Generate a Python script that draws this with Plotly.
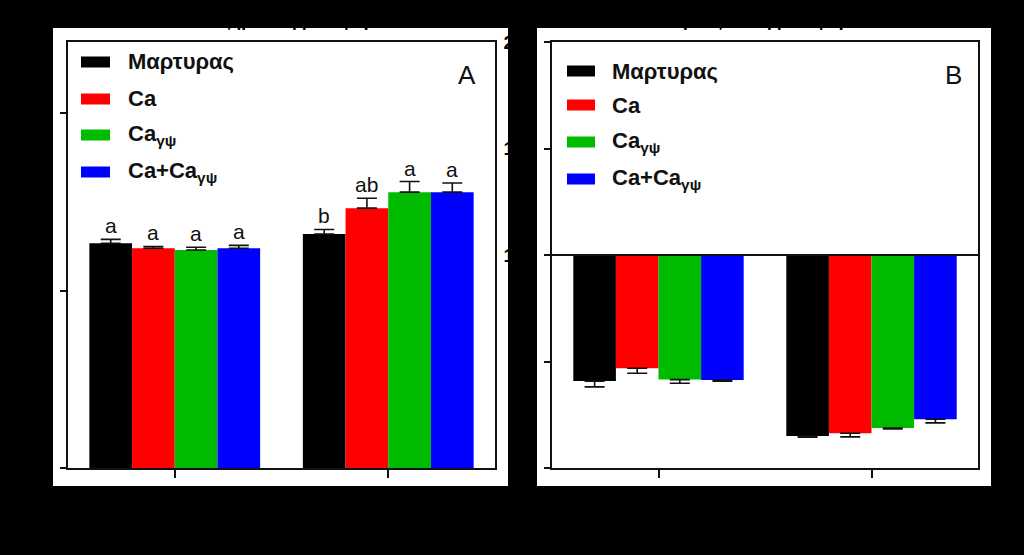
import plotly.graph_objects as go

# ---------------- data ----------------
categories = ["Συγκομιδή", "Αποθήκευση"]
series_names = ["Μαρτυρας", "Ca", "Ca<sub>γψ</sub>", "Ca+Ca<sub>γψ</sub>"]
colors = ["#000000", "#ff0000", "#00bb00", "#0000ff"]

# Panel A
a_values = [
    [63.3, 65.9],   # Μαρτυρας
    [61.9, 73.2],   # Ca
    [61.4, 77.7],   # Caγψ
    [61.9, 77.7],   # Ca+Caγψ
]
a_errors = [
    [1.1, 1.3],
    [0.5, 2.8],
    [0.8, 3.0],
    [0.8, 2.6],
]
a_letters = [
    ["a", "b"],
    ["a", "ab"],
    ["a", "a"],
    ["a", "a"],
]

# Panel B (bars drawn from the 100 baseline)
b_baseline = 100
b_values = [
    [40.8, 15.0],
    [46.8, 16.3],
    [41.5, 18.8],
    [41.3, 22.9],
]
b_errors = [
    [2.7, 0.5],
    [2.3, 1.7],
    [1.7, 0.5],
    [0.5, 1.7],
]

a_yticks = [0, 50, 100]
b_yticks = [0, 50, 100, 150, 200]

W, H = 1024, 555
FONT = "Liberation Sans, Arial, sans-serif"


def px(x):
    return x / W


def py(y):
    return 1 - y / H


fig = go.Figure()
xpos = list(range(len(categories)))

for k in range(4):
    fig.add_trace(go.Bar(
        x=xpos, y=a_values[k], name=series_names[k],
        marker=dict(color=colors[k], line=dict(width=0)),
        error_y=dict(type="data", symmetric=False, array=a_errors[k],
                     arrayminus=[0] * len(categories),
                     color="#111111", thickness=1.6, width=10),
        xaxis="x", yaxis="y", showlegend=False,
    ))
    fig.add_trace(go.Bar(
        x=xpos, y=[v - b_baseline for v in b_values[k]], base=b_baseline,
        name=series_names[k],
        marker=dict(color=colors[k], line=dict(width=0)),
        error_y=dict(type="data", symmetric=False, array=[0] * len(categories),
                     arrayminus=b_errors[k],
                     color="#111111", thickness=1.6, width=10),
        xaxis="x2", yaxis="y2", showlegend=False,
    ))

annotations = []
shapes = []

# significance letters (panel A)
bar_w = 0.8 / 4
for k in range(4):
    for i, c in enumerate(xpos):
        annotations.append(dict(
            x=c - 0.4 + bar_w * (k + 0.5), y=a_values[k][i] + a_errors[k][i],
            xref="x", yref="y", text=a_letters[k][i], showarrow=False,
            yanchor="bottom", yshift=0,
            font=dict(family=FONT, size=21, color="#111111"),
        ))

# white panels behind each chart
for (x0, x1) in [(53, 508), (537, 991)]:
    shapes.append(dict(type="rect", xref="paper", yref="paper",
                       x0=px(x0), x1=px(x1), y0=py(486), y1=py(28),
                       fillcolor="white", line=dict(width=0), layer="below"))

# baseline at 100 in panel B
shapes.append(dict(type="line", xref="x2 domain", yref="y2", x0=0, x1=1,
                   y0=b_baseline, y1=b_baseline,
                   line=dict(color="#111111", width=2)))

# legends (manual)
legend_specs = [
    dict(sx0=81, sx1=110, tx=126, ys=[62, 99, 135, 172]),
    dict(sx0=567, sx1=595, tx=610, ys=[71, 105, 142, 179]),
]
for spec in legend_specs:
    for k, yc in enumerate(spec["ys"]):
        shapes.append(dict(type="rect", xref="paper", yref="paper",
                           x0=px(spec["sx0"]), x1=px(spec["sx1"]),
                           y0=py(yc + 5.5), y1=py(yc - 5.5),
                           fillcolor=colors[k], line=dict(width=0)))
        annotations.append(dict(
            x=px(spec["tx"]), y=py(yc), xref="paper", yref="paper",
            text="<b>" + series_names[k] + "</b>", showarrow=False,
            xanchor="left", yanchor="middle",
            font=dict(family=FONT, size=22, color="#111111"),
        ))

# panel labels
for lab, x, y in [("A", 467, 75), ("B", 953, 75)]:
    annotations.append(dict(x=px(x), y=py(y), xref="paper", yref="paper",
                            text=lab, showarrow=False, xanchor="center",
                            yanchor="middle",
                            font=dict(family=FONT, size=26, color="#111111")))

# panel titles and axis titles (black on black, as in the reference)
for t, x in [("Αποξήρανση/μεταφορά", 285), ("Προεξέταση/μεταφορά", 765)]:
    annotations.append(dict(x=px(x), y=py(33), xref="paper", yref="paper",
                            text="<b>" + t + "</b>", showarrow=False,
                            xanchor="center", yanchor="bottom",
                            font=dict(family=FONT, size=18, color="black")))
for t, x in [("Συνθήκες αποθήκευσης", 285), ("Συνθήκες αποθήκευσης", 765)]:
    annotations.append(dict(x=px(x), y=py(535), xref="paper", yref="paper",
                            text="<b>" + t + "</b>", showarrow=False,
                            xanchor="center", yanchor="middle",
                            font=dict(family=FONT, size=18, color="black")))

axis_common = dict(showline=True, linecolor="#111111", linewidth=2, mirror=True,
                   showgrid=False, zeroline=False, ticks="outside",
                   tickcolor="#111111", tickwidth=2, automargin=False,
                   tickfont=dict(family=FONT, size=19, color="black",
                                 weight="bold"))

ydom = [py(468), py(42)]
fig.update_layout(
    width=W, height=H,
    margin=dict(l=0, r=0, t=0, b=0, pad=0, autoexpand=False),
    paper_bgcolor="black", plot_bgcolor="white",
    barmode="group", bargap=0.2, bargroupgap=0,
    showlegend=False,
    xaxis=dict(domain=[px(68), px(495)], range=[-0.5, 1.5],
               tickvals=xpos, ticktext=categories, ticklen=8, **axis_common),
    yaxis=dict(domain=ydom, range=[0, 120], tickvals=a_yticks, ticklen=6,
               ticklabelstandoff=4,
               title=dict(text="<b>Απώλεια βάρους (%)</b>",
                          font=dict(family=FONT, size=18, color="black")),
               **axis_common),
    xaxis2=dict(domain=[px(552), px(978)], range=[-0.5, 1.5], anchor="y2",
                tickvals=xpos, ticktext=categories, ticklen=8, **axis_common),
    yaxis2=dict(domain=ydom, range=[0, 200], tickvals=b_yticks, ticklen=6,
                ticklabelstandoff=5, anchor="x2", **axis_common),
    annotations=annotations,
    shapes=shapes,
)

fig.write_html("out.html")
